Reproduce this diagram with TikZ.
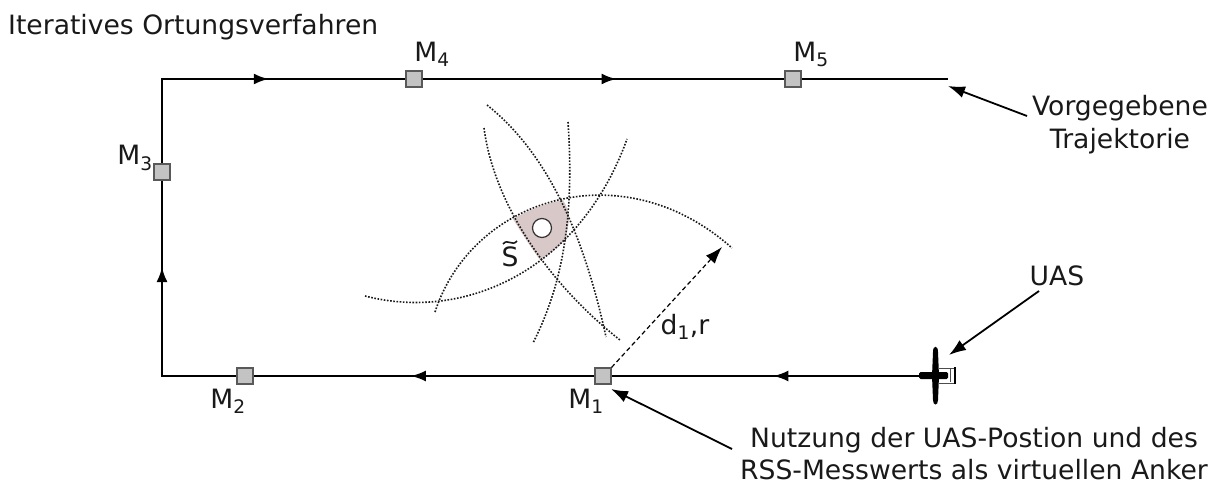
\documentclass[tikz,border=0pt]{standalone}
\usepackage{fontspec}
\setmainfont{DejaVu Sans}
\usetikzlibrary{arrows.meta,decorations.markings}
\definecolor{regionfill}{RGB}{217,200,200}
\definecolor{boxfill}{RGB}{195,195,195}
\tikzset{
  lbl/.style={font=\fontsize{26.6}{33}\selectfont,inner sep=0pt,align=center,text=black!90},
  marker/.style={draw=black!65,fill=boxfill,line width=1.1pt,minimum size=16pt,inner sep=0pt},
  traj/.style={line width=2.3pt,black},
  midtip/.style={postaction={decorate},decoration={markings,mark=at position #1 with {\arrow{Latex[length=15pt,width=11pt]}}}},
  pointer/.style={line width=1.8pt,-{Latex[length=17pt,width=12pt]}},
  arc/.style={line width=1.6pt,black!90,dash pattern=on 1.6pt off 1.6pt},
}
\begin{document}
\begin{tikzpicture}[x=1pt,y=-1pt]
\useasboundingbox (0,0) rectangle (1218,484);
% region
\fill[regionfill] (513,219) .. controls (530,209) and (548,203) .. (563,200) .. controls (566,205) and (568,210) .. (569,214) .. controls (569,225) and (567,233) .. (565,240) .. controls (558,247) and (550,254) .. (540,260) .. controls (530,246) and (521,232) .. (513,219) -- cycle;
% arcs
\draw[arc] (435,312) .. controls (472,198) and (622,150) .. (732,248);
\draw[arc] (365,296) .. controls (465,322) and (580,270) .. (627,139);
\draw[arc] (484,128) .. controls (494,205) and (550,285) .. (620,340);
\draw[arc] (487,105) .. controls (550,155) and (585,240) .. (606,337);
\draw[arc] (568,122) .. controls (574,210) and (565,280) .. (533,343);
\node[circle,draw=black!80,fill=white,line width=1.2pt,minimum size=19pt,inner sep=0pt] (src) at (542,228) {};
% trajectory
\coordinate (start) at (930,376);
\coordinate (c1) at (162,376);
\coordinate (c2) at (162,79);
\coordinate (stop) at (947,79);
\draw[traj,line cap=rect,midtip=0.204] (start) -- (c1);
\draw[traj,midtip=0.676] (start) -- (c1);
\draw[traj,midtip=0.367] (c1) -- (c2);
\draw[traj,line cap=rect,midtip=0.136] (c2) -- (stop);
\draw[traj,midtip=0.579] (c2) -- (stop);
% markers
\node[marker] (M1) at (603,376) {};
\node[marker] (M2) at (245,376) {};
\node[marker] (M3) at (162,172) {};
\node[marker] (M4) at (414,79) {};
\node[marker] (M5) at (793,79) {};
% marker labels
\node[lbl] (l1) at (586,401) {M\textsubscript{1}};
\node[lbl] (l2) at (228,401) {M\textsubscript{2}};
\node[lbl] (l3) at (135,158) {M\textsubscript{3}};
\node[lbl] (l4) at (432,54) {M\textsubscript{4}};
\node[lbl] (l5) at (811,54) {M\textsubscript{5}};
\node[lbl] (dr) at (685,327) {d\textsubscript{1},r};
\node[lbl] (s) at (510,257) {S};
\draw[line width=1.6pt,black!90] (503,244) .. controls (508,238) and (512,247) .. (517,241);
% range arrow
\coordinate (rtip) at (722,247);
\draw[line width=1.2pt,dash pattern=on 4.5pt off 3pt,-{Latex[length=17pt,width=12pt]}] (M1.north east) -- (rtip);
% plane
\coordinate (plane) at (935,376);
\draw[line width=1pt,black!70] (939,368) -- (954,368) (939,383) -- (954,383);
\draw[line width=1.6pt,black] (955,367) -- (955,384);
\draw[line width=1pt,black!70] (950,369) -- (950,382);
\fill[black,rounded corners=1.5pt] (919,372) rectangle (948,379);
\fill[black] (933,352) .. controls (933,345) and (938,345) .. (938,352) -- (939,376) -- (938,400) .. controls (938,406) and (933,406) .. (933,400) -- (932,376) -- cycle;
% texts
\node[lbl,anchor=west] (title) at (8,27) {Iteratives Ortungsverfahren};
\node[lbl] (tr) at (1120,125) {Vorgegebene\\Trajektorie};
\node[lbl] (uas) at (1057,276) {UAS};
\node[lbl,font=\fontsize{26.6}{32}\selectfont] (nu) at (974,454) {Nutzung der UAS-Postion und des\\RSS-Messwerts als virtuellen Anker};
% pointers
\coordinate (p1) at (1027,116);
\coordinate (p1e) at (948,86);
\draw[pointer] (p1) -- (p1e);
\coordinate (p2) at (1039,291);
\coordinate (p2e) at (949,355);
\draw[pointer] (p2) -- (p2e);
\coordinate (p3) at (732,449);
\coordinate (p3e) at (611,389);
\draw[pointer] (p3) -- (p3e);
\end{tikzpicture}
\end{document}
